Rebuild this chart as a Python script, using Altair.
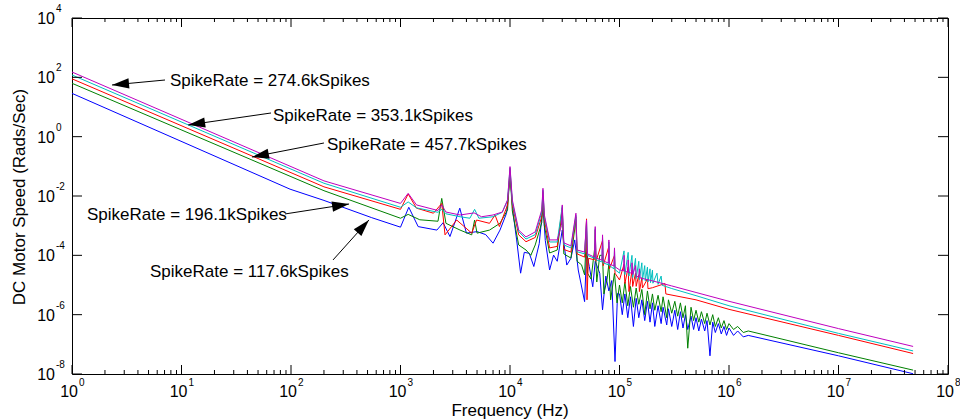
import math
import altair as alt
import pandas as pd

W, H = 876, 356
FONT = "Liberation Sans"

# ---------------- data ----------------
# SpikeRate = 117.6kSpikes (blue)
blue_f = [1, 98, 200, 546, 1000, 1190, 1450, 2150, 2450, 2830, 3480, 4000, 5000, 6000, 7000,
          8100, 9300, 10000, 10700, 11500, 12500, 13500, 15000, 16500, 18500, 20000, 21000,
          23000, 25000, 27000, 30000, 33000, 36000, 39000, 42000, 48000, 50000, 53000, 57000,
          60000, 66000, 70000, 75000, 80000, 85000, 91000, 96000,
          1.0e5, 1.06e5, 1.12e5, 1.19e5, 1.26e5, 1.34e5, 1.42e5, 1.5e5, 1.6e5, 1.7e5, 1.8e5,
          1.9e5, 2.0e5, 2.1e5, 2.25e5, 2.4e5, 2.5e5, 2.7e5, 2.8e5, 3.0e5, 3.2e5, 3.4e5, 3.6e5,
          3.8e5, 4.0e5, 4.2e5, 4.5e5, 4.75e5, 5.0e5, 5.3e5, 5.6e5, 6.0e5, 6.3e5, 6.7e5, 7.1e5,
          7.5e5, 8.0e5, 8.5e5, 9.0e5, 9.5e5, 1.0e6, 1.1e6, 1.2e6, 1.35e6, 1.5e6, 1e7, 4.8e7]
blue_a = [28.8, 1.7e-2, 7.1e-3, 1.86e-3, 8.9e-4, 4.17e-3, 9.3e-4, 7.1e-4, 1.26e-3, 4.3e-4,
          3.89e-3, 5.6e-4, 6.3e-4, 5.0e-4, 2.57e-4, 7.1e-4, 2.63e-3, 5.0e-2, 2.5e-3, 3.3e-4,
          2.5e-5, 1.26e-4, 1.17e-4, 4.2e-5, 2.5e-4, 5.0e-3, 3.16e-4, 3.2e-5, 1.02e-4, 6.3e-5,
          7.1e-4, 4.7e-5, 7.9e-5, 3.3e-4, 3.2e-5, 2.75e-6, 1.26e-4, 4.2e-5, 8.7e-6, 6.3e-5,
          2.5e-5, 1.45e-6, 2.0e-5, 6.3e-6, 1.41e-5, 2.63e-8, 5.2e-6,
          5.0e-6, 1.0e-6, 5.0e-6, 7.9e-7, 4.0e-6, 4.0e-7, 3.55e-6, 7.9e-7, 3.16e-6, 6.3e-7,
          2.82e-6, 5.6e-7, 2.5e-6, 4.0e-7, 2.0e-6, 5.0e-7, 1.78e-6, 4.5e-7, 1.58e-6, 4.0e-7,
          1.41e-6, 3.16e-7, 1.26e-6, 3.55e-7, 1.0e-6, 3.16e-7, 8.9e-7, 3.16e-7, 7.9e-7, 2.82e-7,
          7.1e-7, 2.82e-7, 6.3e-7, 4.1e-8, 5.6e-7, 2.5e-7, 5.0e-7, 2.24e-7, 4.0e-7, 2.0e-7,
          3.55e-7, 2.0e-7, 2.82e-7, 1.78e-7, 2.0e-7, 4.1e-8, 1.02e-8]

# SpikeRate = 196.1kSpikes (green)
green_f = [1, 200, 1000, 1175, 1500, 2200, 2380, 2600, 3500, 4470, 4750, 5000, 6500, 8100,
           9500, 10000, 10500, 12000, 14000, 15500, 17000, 19500, 20000, 20600, 23000, 27000,
           30000, 31000, 36000, 40000, 41000, 45000, 48000, 50000, 51000, 55000, 60000, 62000,
           66000, 70000, 72000, 77000, 80000, 83000, 90000, 95000,
           1.0e5, 1.06e5, 1.12e5, 1.19e5, 1.26e5, 1.34e5, 1.42e5, 1.5e5, 1.6e5, 1.7e5, 1.8e5,
           1.9e5, 2.0e5, 2.1e5, 2.25e5, 2.4e5, 2.5e5, 2.7e5, 2.8e5, 3.0e5, 3.2e5, 3.4e5, 3.6e5,
           3.8e5, 4.0e5, 4.2e5, 4.5e5, 4.75e5, 5.0e5, 5.3e5, 5.6e5, 6.0e5, 6.3e5, 6.7e5, 7.1e5,
           7.5e5, 8.0e5, 8.5e5, 9.0e5, 9.5e5, 1.0e6, 1.1e6, 1.2e6, 1.35e6, 1.5e6, 1e7, 4.8e7]
green_a = [63, 1.51e-2, 1.78e-3, 2.4e-3, 1.58e-3, 1.41e-3, 8.3e-3, 1.2e-3, 7.1e-4, 4.9e-4,
           1.55e-3, 5.6e-4, 7.1e-4, 1.2e-3, 3.39e-3, 6.3e-2, 3.16e-3, 2.24e-4, 1.51e-4, 1.0e-4,
           2.24e-4, 1.26e-3, 1.0e-2, 1.0e-3, 1.2e-4, 1.51e-4, 3.16e-3, 1.12e-4, 8.1e-5, 1.58e-3,
           6.3e-5, 4.8e-5, 2.19e-5, 6.3e-4, 2.5e-5, 1.58e-5, 2.5e-4, 1.26e-5, 1.0e-4, 1.0e-4,
           5.0e-6, 1.58e-5, 5.0e-5, 3.16e-6, 2.5e-5, 2.5e-6,
           1.0e-5, 2.5e-6, 1.26e-5, 2.0e-6, 8.9e-6, 1.78e-6, 7.9e-6, 2.24e-6, 7.1e-6, 1.0e-6,
           6.3e-6, 1.58e-6, 5.0e-6, 1.41e-6, 4.5e-6, 1.26e-6, 4.0e-6, 7.9e-7, 3.16e-6, 1.12e-6,
           2.82e-6, 8.9e-7, 2.5e-6, 7.9e-7, 2.0e-6, 7.4e-8, 1.78e-6, 6.3e-7, 1.41e-6, 5.6e-7,
           1.26e-6, 5.0e-7, 1.12e-6, 4.5e-7, 1.0e-6, 4.0e-7, 7.9e-7, 3.55e-7, 6.3e-7, 3.16e-7,
           5.0e-7, 3.16e-7, 4.0e-7, 2.5e-7, 2.82e-7, 5.2e-8, 1.35e-8]

# SpikeRate = 274.6kSpikes (red)
red_f = [1, 200, 1000, 1175, 1400, 2000, 2380, 2550, 3260, 4470, 4950, 6500, 7300, 8000, 9500,
         10000, 10500, 12000, 14000, 17000, 19500, 20000, 20600, 23000, 27000, 30000, 31000,
         36000, 40000, 41000, 48000, 50000, 50500, 52000, 59000, 60000, 61000, 70000, 71000,
         80000, 81000, 90000, 91000, 1e5, 1.1e5, 1.12e5, 1.2e5, 1.22e5, 1.3e5, 1.32e5, 1.4e5,
         1.42e5, 1.5e5, 1.52e5, 1.6e5, 1.62e5, 1.8e5, 1.82e5, 2e5, 2.6e5, 2.65e5, 5e5, 1e6,
         1e7, 4.8e7]
red_a = [89, 2.04e-2, 3.55e-3, 1.17e-2, 3.89e-3, 2.63e-3, 5.62e-3, 4.9e-4, 1.55e-3, 5.6e-4,
         1.55e-3, 1.2e-3, 2.29e-3, 9.3e-4, 5.0e-3, 7.9e-2, 5.0e-3, 4.9e-4, 2.88e-4, 4.0e-4,
         2.0e-3, 1.41e-2, 1.58e-3, 1.78e-4, 2.0e-4, 3.98e-3, 1.58e-4, 1.29e-4, 2.0e-3, 1.12e-4,
         8.7e-5, 1.7e-3, 3.16e-6, 7.9e-5, 7.1e-5, 7.1e-4, 6.3e-5, 3.16e-4, 4.5e-5, 2.0e-4,
         3.5e-5, 1.0e-4, 2.5e-5, 1.48e-5, 5.0e-5, 1.12e-5, 4.0e-5, 6.0e-6, 3.16e-5, 8.9e-6,
         2.5e-5, 9.0e-6, 2.2e-5, 6.0e-6, 1.78e-5, 7.9e-6, 1.6e-5, 7.5e-6, 8.1e-6, 1.12e-5,
         5.0e-6, 3.16e-6, 1.51e-6, 2.0e-7, 4.9e-8]

# SpikeRate = 353.1kSpikes (cyan)
cyan_f = [1, 200, 1000, 1175, 1400, 2200, 2380, 2600, 3500, 4300, 4750, 5200, 7000, 8500, 9500,
          10000, 10500, 12000, 14000, 17000, 19500, 20000, 20600, 23000, 27000, 30000, 31000,
          36000, 40000, 41000, 48000, 50000, 51000, 59000, 60000, 61000, 69000, 70000, 71000,
          79000, 80000, 81000, 89000, 90000, 91000, 1e5, 1.1e5, 1.12e5, 1.2e5, 1.22e5, 1.3e5,
          1.32e5, 1.4e5, 1.42e5, 1.5e5, 1.52e5, 1.6e5, 1.62e5, 1.7e5, 1.72e5, 1.8e5, 1.82e5,
          1.9e5, 1.92e5, 2.0e5, 2.02e5, 2.2e5, 2.25e5, 2.4e5, 2.45e5, 3e5, 5e5, 1e6, 1e7, 4.8e7]
cyan_a = [120, 2.69e-2, 4.17e-3, 6.31e-3, 3.98e-3, 2.82e-3, 3.55e-3, 2.51e-3, 2.0e-3, 1.78e-3,
          3.55e-3, 1.78e-3, 2.0e-3, 2.82e-3, 7.08e-3, 8.9e-2, 6.31e-3, 6.31e-4, 3.55e-4, 5.0e-4,
          2.82e-3, 1.58e-2, 2.0e-3, 2.82e-4, 2.82e-4, 4.47e-3, 2.24e-4, 1.78e-4, 2.24e-3,
          1.32e-4, 1.12e-4, 1.41e-3, 1.0e-4, 7.9e-5, 7.9e-4, 7.1e-5, 6.0e-5, 4.0e-4, 5.6e-5,
          4.8e-5, 2.8e-4, 4.5e-5, 3.5e-5, 1.58e-4, 3.3e-5, 2.5e-5, 1.41e-4, 2.24e-5, 1.26e-4,
          2.0e-5, 1.0e-4, 1.78e-5, 7.9e-5, 1.66e-5, 6.3e-5, 1.51e-5, 5.6e-5, 1.45e-5, 4.5e-5,
          1.38e-5, 4.0e-5, 1.26e-5, 3.5e-5, 1.2e-5, 3.16e-5, 1.15e-5, 2.5e-5, 1.05e-5, 2.0e-5,
          9.8e-6, 7.6e-6, 4.37e-6, 2.0e-6, 2.34e-7, 6.0e-8]

# SpikeRate = 457.7kSpikes (magenta)
magenta_f = [1, 200, 1000, 1175, 1400, 2200, 2380, 2600, 3500, 4700, 5500, 7000, 8500, 9500,
             10000, 10500, 12000, 14000, 17000, 19500, 20000, 20600, 23000, 27000, 29500, 30000,
             31000, 36000, 40000, 41000, 48000, 50000, 51000, 59000, 60000, 61000, 69000, 70000,
             71000, 79000, 80000, 81000, 89000, 90000, 91000, 1e5, 1.09e5, 1.1e5, 1.11e5,
             1.19e5, 1.2e5, 1.21e5, 1.29e5, 1.3e5, 1.32e5, 1.4e5, 1.42e5, 1.5e5, 1.52e5, 1.54e5,
             2e5, 3e5, 5e5, 1e6, 1e7, 4.8e7]
magenta_a = [151, 3.24e-2, 5.62e-3, 1.23e-2, 5.0e-3, 3.24e-3, 5.0e-3, 2.88e-3, 2.29e-3, 2.69e-3,
             2.0e-3, 2.29e-3, 2.88e-3, 7.41e-3, 9.8e-2, 7.41e-3, 7.08e-4, 4.17e-4, 6.17e-4,
             3.39e-3, 1.82e-2, 2.29e-3, 3.31e-4, 3.31e-4, 1.0e-3, 5.0e-3, 2.63e-4, 2.09e-4,
             2.63e-3, 1.51e-4, 1.29e-4, 1.55e-3, 1.12e-4, 8.7e-5, 9.3e-4, 8.1e-5, 6.9e-5, 4.9e-4,
             6.5e-5, 5.5e-5, 3.3e-4, 5.1e-5, 4.4e-5, 1.78e-4, 4.1e-5, 3.24e-5, 3.0e-5, 1.0e-4,
             3.0e-5, 2.7e-5, 7.0e-5, 2.65e-5, 2.5e-5, 5.6e-5, 2.24e-5, 4.5e-5, 2.0e-5, 1.86e-5,
             3.5e-5, 1.74e-5, 1.38e-5, 9.3e-6, 5.6e-6, 2.82e-6, 3.39e-7, 8.5e-8]

series = [
    (blue_f, blue_a, "#0000ff"),
    (green_f, green_a, "#008000"),
    (red_f, red_a, "#ff0000"),
    (cyan_f, cyan_a, "#00bfbf"),
    (magenta_f, magenta_a, "#bf00bf"),
]

# annotations
ann_labels = ["SpikeRate = 274.6kSpikes", "SpikeRate = 353.1kSpikes", "SpikeRate = 457.7kSpikes",
              "SpikeRate = 196.1kSpikes", "SpikeRate = 117.6kSpikes"]
ann_f = [7.85, 68.5, 213, 1.37, 5.16]
ann_a = [75.4, 4.97, 0.525, 2.3e-3, 2.75e-5]
tail_f = [7.07, 65.7, 200, 88.2, 242]
tail_a = [81.3, 6.28, 0.612, 2.48e-3, 6.98e-5]
tip_f = [2.32, 11.5, 44, 339, 515]
tip_a = [55.2, 2.48, 0.206, 5.38e-3, 1.56e-3]

# axis ticks / labels
x_major = [10.0 ** d for d in range(0, 9)]
x_minor = [k * 10.0 ** d for d in range(0, 8) for k in range(2, 10)]
x_exp = [str(d) for d in range(0, 9)]
y_major = [10.0 ** d for d in range(-8, 5, 2)]
y_exp = [str(d) for d in range(-8, 5, 2)]

# ---------------- chart ----------------
xs = alt.Scale(type="log", domain=[1, 1e8], nice=False)
ys = alt.Scale(type="log", domain=[1e-8, 1e4], nice=False)

def X(field):
    return alt.X(field, type="quantitative", scale=xs, axis=None)

def Y(field):
    return alt.Y(field, type="quantitative", scale=ys, axis=None)

layers = []
for f, a, col in series:
    df = pd.DataFrame({"f": f, "a": a, "i": list(range(len(f)))})
    layers.append(
        alt.Chart(df).mark_line(color=col, strokeWidth=1, clip=True).encode(
            x=X("f"), y=Y("a"), order=alt.Order("i:Q"))
    )

# ticks (inward, MATLAB style)
xmaj = pd.DataFrame({"f": x_major})
xmin = pd.DataFrame({"f": x_minor})
ymaj = pd.DataFrame({"a": y_major})
for d, ln in ((xmaj, 9), (xmin, 4)):
    layers.append(alt.Chart(d).mark_rule(color="black", strokeWidth=1).encode(
        x=X("f"), y=alt.value(H), y2=alt.value(H - ln)))
    layers.append(alt.Chart(d).mark_rule(color="black", strokeWidth=1).encode(
        x=X("f"), y=alt.value(0), y2=alt.value(ln)))
layers.append(alt.Chart(ymaj).mark_rule(color="black", strokeWidth=1).encode(
    y=Y("a"), x=alt.value(0), x2=alt.value(10)))
layers.append(alt.Chart(ymaj).mark_rule(color="black", strokeWidth=1).encode(
    y=Y("a"), x=alt.value(W), x2=alt.value(W - 10)))

# tick labels (10 with superscript exponent)
xl = pd.DataFrame({"f": x_major, "e": x_exp})
layers.append(alt.Chart(xl).mark_text(text="10", align="right", baseline="alphabetic", dx=6,
                                      fontSize=16, font=FONT, color="black").encode(
    x=X("f"), y=alt.value(H + 23)))
layers.append(alt.Chart(xl).mark_text(align="left", baseline="alphabetic", dx=7,
                                      fontSize=10, font=FONT, color="black").encode(
    x=X("f"), y=alt.value(H + 12), text="e:N"))
yl = pd.DataFrame({"a": y_major, "e": y_exp})
layers.append(alt.Chart(yl).mark_text(text="10", align="right", baseline="alphabetic", dy=6,
                                      fontSize=16, font=FONT, color="black").encode(
    y=Y("a"), x=alt.value(-17)))
layers.append(alt.Chart(yl).mark_text(align="left", baseline="alphabetic", dy=-6,
                                      fontSize=10, font=FONT, color="black").encode(
    y=Y("a"), x=alt.value(-16), text="e:N"))

# axis titles
layers.append(alt.Chart(pd.DataFrame({"t": ["Frequency (Hz)"]})).mark_text(
    align="center", baseline="alphabetic", fontSize=17, font=FONT, color="black").encode(
    x=alt.value(W / 2), y=alt.value(H + 42), text="t:N"))
layers.append(alt.Chart(pd.DataFrame({"t": ["DC Motor Speed (Rads/Sec)"]})).mark_text(
    align="center", baseline="middle", angle=270, fontSize=17, font=FONT, color="black").encode(
    x=alt.value(-52), y=alt.value(H / 2 + 1), text="t:N"))

# annotations + arrows
pxx, pxy = W / 8.0, H / 12.0
angles = []
for tf, ta, pf, pa in zip(tail_f, tail_a, tip_f, tip_a):
    dx = pxx * (math.log10(pf) - math.log10(tf))
    dy = -pxy * (math.log10(pa) - math.log10(ta))
    angles.append(math.degrees(math.atan2(dx, -dy)) % 360)
arr = pd.DataFrame({"tf": tail_f, "ta": tail_a, "pf": tip_f, "pa": tip_a, "ang": angles})
layers.append(alt.Chart(arr).mark_rule(color="black", strokeWidth=1).encode(
    x=X("tf"), y=Y("ta"), x2="pf:Q", y2="pa:Q"))
layers.append(alt.Chart(arr).mark_point(shape="M0,0L-0.6,2L0.6,2Z", filled=True, color="black",
                                        size=289, opacity=1, strokeWidth=0).encode(
    x=X("pf"), y=Y("pa"), angle=alt.Angle("ang:Q", scale=None)))
ann = pd.DataFrame({"f": ann_f, "a": ann_a, "t": ann_labels})
layers.append(alt.Chart(ann).mark_text(align="left", baseline="middle", fontSize=17, font=FONT,
                                       color="black").encode(x=X("f"), y=Y("a"), text="t:N"))

chart = alt.layer(*layers).properties(
    width=W, height=H,
    padding={"left": 72, "top": 18, "right": 12, "bottom": 46},
    autosize=alt.AutoSizeParams(type="none"),
    background="white",
).configure_view(stroke="black", strokeWidth=1)

chart.save("out.html", embed_options={"renderer": "svg", "actions": False})
